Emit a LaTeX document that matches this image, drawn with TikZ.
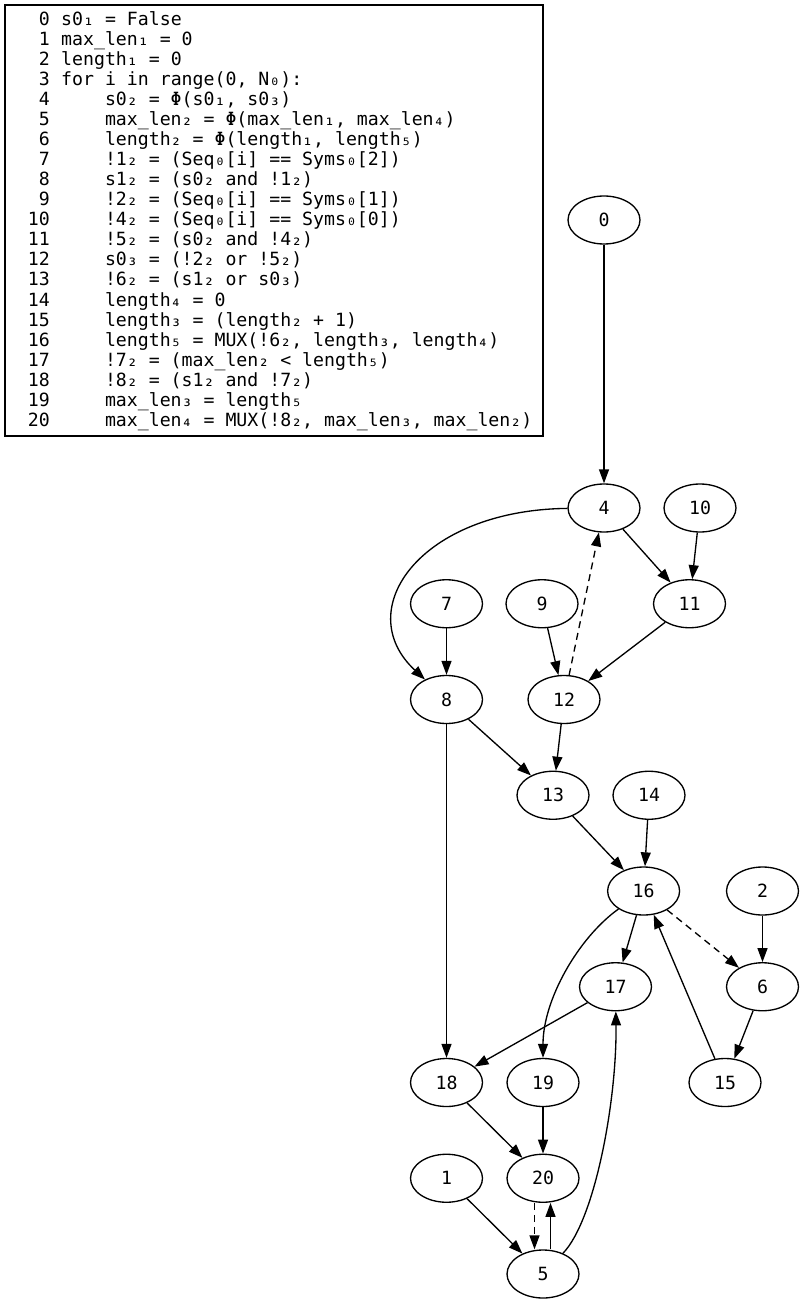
\documentclass[tikz,border=0pt]{standalone}
\usepackage{fontspec}
\newfontfamily\codefont{DejaVu Sans Mono}
\usetikzlibrary{shapes.geometric,arrows.meta}

\tikzset{
  codetxt/.style={inner sep=0pt, font=\codefont\fontsize{18.2}{20}\selectfont},
  vertex/.style={draw, ellipse, line width=1.33pt, minimum width=72pt,
    minimum height=48pt, inner sep=0pt,
    font=\codefont\fontsize{18.2}{20}\selectfont},
  edge/.style={line width=1.33pt, -{Triangle[length=14pt,width=10pt]}},
  backedge/.style={edge, dash pattern=on 7pt off 5pt},
}

\begin{document}
\frenchspacing
\begin{tikzpicture}[x=1pt, y=-1pt]
\useasboundingbox (0,0) rectangle (804,1305);

% listing of the program
\draw[line width=1.33pt] (5,5) rectangle (543,436);
\foreach \n/\ind/\code in {
  0/0/{s0₁ = False},
  1/0/{max\_len₁ = 0},
  2/0/{length₁ = 0},
  3/0/{for i in range(0, N₀):},
  4/1/{s0₂ = Φ(s0₁, s0₃)},
  5/1/{max\_len₂ = Φ(max\_len₁, max\_len₄)},
  6/1/{length₂ = Φ(length₁, length₅)},
  7/1/{!1₂ = (Seq₀[i] == Syms₀[2])},
  8/1/{s1₂ = (s0₂ and !1₂)},
  9/1/{!2₂ = (Seq₀[i] == Syms₀[1])},
  10/1/{!4₂ = (Seq₀[i] == Syms₀[0])},
  11/1/{!5₂ = (s0₂ and !4₂)},
  12/1/{s0₃ = (!2₂ or !5₂)},
  13/1/{!6₂ = (s1₂ or s0₃)},
  14/1/{length₄ = 0},
  15/1/{length₃ = (length₂ + 1)},
  16/1/{length₅ = MUX(!6₂, length₃, length₄)},
  17/1/{!7₂ = (max\_len₂ < length₅)},
  18/1/{!8₂ = (s1₂ and !7₂)},
  19/1/{max\_len₃ = length₅},
  20/1/{max\_len₄ = MUX(!8₂, max\_len₃, max\_len₂)}%
}{
  \node[codetxt, anchor=base east] (num\n) at (50.05, {26+20*\n}) {\n};
  \node[codetxt, anchor=base west] (code\n) at ({61+43.8*\ind}, {26+20*\n}) {\code};
}

% dependency graph
\node[vertex] (n0)  at (604, 220) {0};
\node[vertex] (n4)  at (604, 508) {4};
\node[vertex] (n10) at (700, 508) {10};
\node[vertex] (n7)  at (446.5, 603.75) {7};
\node[vertex] (n9)  at (542, 603.75) {9};
\node[vertex] (n11) at (689.5, 603.75) {11};
\node[vertex] (n8)  at (446.5, 699.5) {8};
\node[vertex] (n12) at (564, 699.5) {12};
\node[vertex] (n13) at (553, 795.25) {13};
\node[vertex] (n14) at (649, 795.25) {14};
\node[vertex] (n16) at (643.6, 891) {16};
\node[vertex] (n2)  at (762.5, 891) {2};
\node[vertex] (n17) at (615.5, 986.75) {17};
\node[vertex] (n6)  at (762.5, 986.75) {6};
\node[vertex] (n18) at (446.5, 1082.5) {18};
\node[vertex] (n19) at (543, 1082.5) {19};
\node[vertex] (n15) at (725, 1082.5) {15};
\node[vertex] (n1)  at (446.5, 1178.25) {1};
\node[vertex] (n20) at (543, 1178.25) {20};
\node[vertex] (n5)  at (543, 1274) {5};

\draw[edge] (n0) -- (n4);
\draw[edge] (n4) .. controls (420,510) and (350,610) .. (n8);
\draw[edge] (n4) -- (n11);
\draw[edge] (n10) -- (n11);
\draw[edge] (n7) -- (n8);
\draw[edge] (n9) -- (n12);
\draw[edge] (n11) -- (n12);
\draw[backedge] (n12) -- (n4);
\draw[edge] (n8) -- (n13);
\draw[edge] (n12) -- (n13);
\draw[edge] (n8) -- (n18);
\draw[edge] (n13) -- (n16);
\draw[edge] (n14) -- (n16);
\draw[edge] (n16) -- (n17);
\draw[backedge] (n16) -- (n6);
\draw[edge] (n16) .. controls (578,938) and (543,1000) .. (n19);
\draw[edge] (n2) -- (n6);
\draw[edge] (n6) -- (n15);
\draw[edge] (n15) -- (n16);
\draw[edge] (n17) -- (n18);
\draw[edge] (n18) -- (n20);
\draw[edge] (n19) -- (n20);
\draw[edge] (n1) -- (n5);
\draw[backedge] ([xshift=-8.5pt]n20.south) -- ([xshift=-8.5pt]n5.north);
\draw[edge] ([xshift=7.5pt]n5.north) -- ([xshift=7.5pt]n20.south);
\draw[edge] (n5) .. controls (595,1220) and (617,1100) .. (n17);
\end{tikzpicture}
\end{document}
